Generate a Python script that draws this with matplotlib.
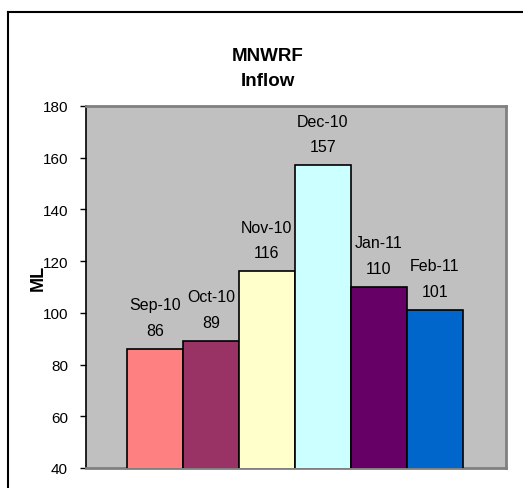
import matplotlib
matplotlib.use("Agg")
import matplotlib.pyplot as plt
from matplotlib.lines import Line2D

plt.rcParams['font.family'] = ['Liberation Sans', 'DejaVu Sans']

months = ["Sep-10", "Oct-10", "Nov-10", "Dec-10", "Jan-11", "Feb-11"]
values = [86, 89, 116, 157, 110, 101]
colors = ["#FF8080", "#993366", "#FFFFCC", "#CCFFFF", "#660066", "#0066CC"]
yticks = [40, 60, 80, 100, 120, 140, 160, 180]

W, H = 523, 489
fig = plt.figure(figsize=(W / 100, H / 100), dpi=100)

# outer chart-area border (left and top visible; chart is cropped)
fig.add_artist(Line2D([8 / W, 8 / W], [0, 1 - 12.5 / H], transform=fig.transFigure,
                      color="black", lw=1.5))
fig.add_artist(Line2D([8 / W, 1], [1 - 12.5 / H, 1 - 12.5 / H], transform=fig.transFigure,
                      color="black", lw=1.5))

ax = fig.add_axes([86 / W, 1 - 469 / H, 420 / W, 362 / H])
ax.set_facecolor("#C0C0C0")
x = list(range(len(months)))
ax.bar(x, values, width=1.0, color=colors, edgecolor="black", linewidth=1.2, zorder=3)
ax.set_xlim(-1.23, len(months) + 0.27)
ax.set_ylim(40, 180)
ax.set_yticks(yticks)
ax.set_xticks([])
ax.tick_params(axis="y", direction="out", length=4, width=1, pad=9, labelsize=11)

for s in ["top", "right", "bottom"]:
    ax.spines[s].set_color("#808080")
    ax.spines[s].set_linewidth(2)
ax.spines["left"].set_color("black")
ax.spines["left"].set_linewidth(1.2)

for xi, v, m in zip(x, values, months):
    ax.annotate(f"{m}\n{v}", (xi, v), xytext=(0, 8), textcoords="offset points",
                ha="center", va="bottom", fontsize=11.5, linespacing=1.9)

fig.text(268 / W, 1 - 69 / H, "MNWRF\nInflow", ha="center", va="center",
         fontsize=13.5, fontweight="bold", linespacing=1.65)
fig.text(38 / W, 1 - 278 / H, "ML", ha="center", va="center", rotation=90,
         fontsize=13, fontweight="bold")

fig.savefig("out.png", dpi=100)
